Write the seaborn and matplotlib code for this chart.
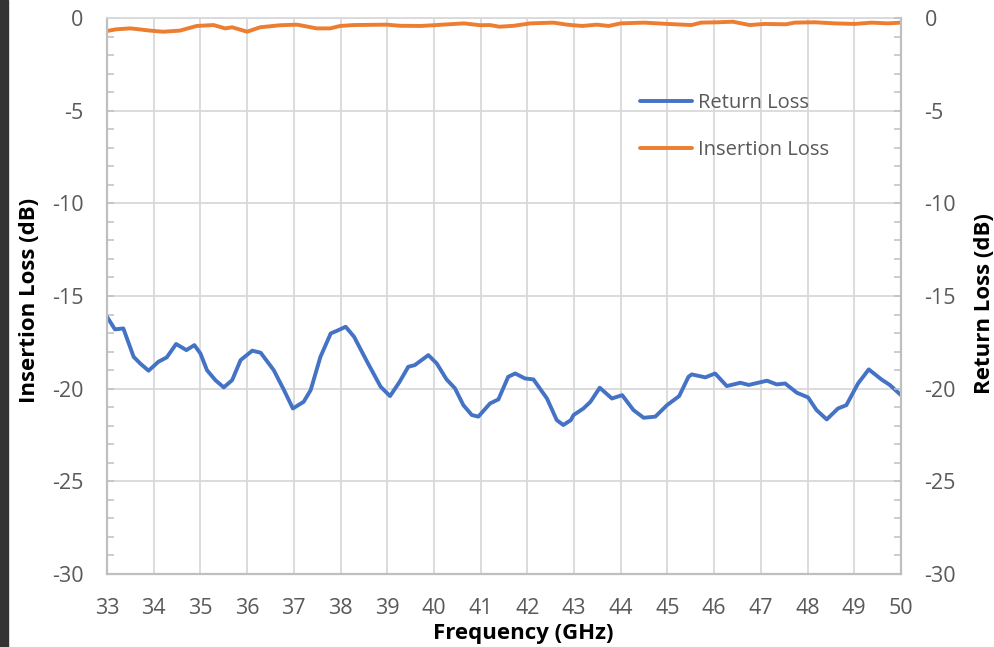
import matplotlib
matplotlib.use("Agg")
import matplotlib.pyplot as plt
import seaborn as sns
import pandas as pd
from matplotlib.ticker import MultipleLocator, FixedLocator
from matplotlib.patches import Rectangle

# ---------------- data ----------------
rl_freq = [33.00, 33.17, 33.35, 33.57, 33.71, 33.89, 34.10, 34.28, 34.48, 34.70,
           34.87, 35.00, 35.14, 35.32, 35.50, 35.68, 35.86, 36.11, 36.29, 36.57,
           36.79, 36.98, 37.21, 37.36, 37.57, 37.79, 37.93, 38.11, 38.29, 38.57,
           38.86, 39.06, 39.26, 39.45, 39.59, 39.88, 40.06, 40.27, 40.45, 40.63,
           40.81, 40.95, 41.20, 41.38, 41.59, 41.74, 41.95, 42.13, 42.42, 42.63,
           42.77, 42.93, 42.99, 43.20, 43.35, 43.55, 43.81, 44.03, 44.27, 44.49,
           44.74, 44.99, 45.25, 45.45, 45.52, 45.81, 46.02, 46.27, 46.56, 46.74,
           47.13, 47.34, 47.52, 47.77, 48.01, 48.19, 48.41, 48.65, 48.83, 49.08,
           49.31, 49.58, 49.76, 50.00]
rl_db = [-16.12, -16.80, -16.75, -18.28, -18.64, -19.03, -18.55, -18.31, -17.59, -17.92,
         -17.65, -18.10, -19.00, -19.54, -19.93, -19.54, -18.46, -17.95, -18.06, -19.00,
         -20.08, -21.07, -20.71, -20.08, -18.28, -17.02, -16.87, -16.66, -17.20, -18.55,
         -19.90, -20.40, -19.65, -18.82, -18.73, -18.19, -18.64, -19.50, -19.98, -20.89,
         -21.42, -21.51, -20.80, -20.58, -19.36, -19.18, -19.45, -19.50, -20.53, -21.70,
         -21.96, -21.70, -21.42, -21.07, -20.71, -19.95, -20.53, -20.35, -21.15, -21.57,
         -21.51, -20.89, -20.40, -19.36, -19.23, -19.39, -19.18, -19.86, -19.68, -19.80,
         -19.57, -19.77, -19.72, -20.22, -20.47, -21.15, -21.66, -21.07, -20.89, -19.72,
         -18.96, -19.50, -19.80, -20.35]

il_freq = [33.00, 33.20, 33.50, 33.65, 33.92, 34.20, 34.56, 34.92, 35.28, 35.53,
           35.68, 36.00, 36.28, 36.71, 37.07, 37.49, 37.78, 37.99, 38.28, 38.99,
           39.28, 39.71, 39.99, 40.64, 40.99, 41.20, 41.40, 41.71, 42.06, 42.56,
           42.85, 43.17, 43.49, 43.74, 44.00, 44.50, 45.00, 45.51, 45.72, 46.08,
           46.40, 46.76, 47.08, 47.54, 47.72, 48.15, 48.58, 49.01, 49.37, 49.72,
           50.00]
il_db = [-0.70, -0.61, -0.56, -0.60, -0.68, -0.74, -0.68, -0.43, -0.38, -0.56,
         -0.50, -0.74, -0.50, -0.39, -0.36, -0.56, -0.56, -0.43, -0.38, -0.36,
         -0.42, -0.43, -0.39, -0.29, -0.39, -0.38, -0.47, -0.42, -0.29, -0.25,
         -0.36, -0.43, -0.36, -0.43, -0.29, -0.25, -0.32, -0.38, -0.25, -0.23,
         -0.20, -0.38, -0.32, -0.34, -0.25, -0.23, -0.29, -0.32, -0.25, -0.29,
         -0.25]

x_ticks = list(range(33, 51))
y_ticks = [0, -5, -10, -15, -20, -25, -30]
series_names = ["Return Loss", "Insertion Loss"]
series_colors = ["#4472C4", "#ED7D31"]

# ---------------- style ----------------
sns.set_theme(style="white")
plt.rcParams['font.family'] = ['Open Sans', 'DejaVu Sans']

TICK_COL = "#595959"
GRID_COL = "#D9D9D9"
SPINE_COL = "#BFBFBF"

fig = plt.figure(figsize=(9.94, 6.47), dpi=100)
ax = fig.add_axes([107/994, 1-574/647, 794/994, 556/647])

rl_df = pd.DataFrame({"freq": rl_freq, "val": rl_db})
il_df = pd.DataFrame({"freq": il_freq, "val": il_db})

sns.lineplot(data=rl_df, x="freq", y="val", ax=ax, color=series_colors[0],
             linewidth=2.8, label=series_names[0], estimator=None,
             solid_joinstyle="round", solid_capstyle="round")
sns.lineplot(data=il_df, x="freq", y="val", ax=ax, color=series_colors[1],
             linewidth=2.8, label=series_names[1], estimator=None,
             solid_joinstyle="round", solid_capstyle="round")

ax.set_xlim(33, 50)
ax.set_ylim(-30, 0)
ax.xaxis.set_major_locator(FixedLocator(x_ticks))
ax.xaxis.set_minor_locator(MultipleLocator(0.2))
ax.yaxis.set_major_locator(FixedLocator(y_ticks))
ax.yaxis.set_minor_locator(MultipleLocator(1))
ax.set_xticklabels([str(t) for t in x_ticks])
ax.set_yticklabels([str(t) for t in y_ticks])

ax.grid(True, which="major", color=GRID_COL, linewidth=1.3)
ax.set_axisbelow(True)

ax.tick_params(axis="both", which="both", direction="in", color=SPINE_COL,
               width=1.1, labelcolor=TICK_COL, labelsize=15.5)
ax.tick_params(axis="both", which="major", length=5)
ax.tick_params(axis="both", which="minor", length=5)
ax.tick_params(axis="x", which="major", pad=17)
ax.tick_params(axis="y", which="major", pad=17)

for side in ["left", "bottom"]:
    ax.spines[side].set_color(SPINE_COL)
    ax.spines[side].set_linewidth(1.6)
ax.spines["top"].set_color(GRID_COL)
ax.spines["top"].set_linewidth(1.3)
ax.spines["right"].set_visible(False)

ax.set_xlabel("Frequency (GHz)", fontsize=16, fontweight="bold", color="#000000", va="center")
ax.xaxis.set_label_coords((523-107)/794, (574-633)/556)
ax.set_ylabel("Insertion Loss (dB)", fontsize=16, fontweight="bold", color="#000000", va="center")
ax.yaxis.set_label_coords((30-107)/794, (574-300)/556)

# right axis
ax2 = ax.twinx()
ax2.set_ylim(-30, 0)
ax2.yaxis.set_major_locator(FixedLocator(y_ticks))
ax2.yaxis.set_minor_locator(MultipleLocator(1))
ax2.set_yticklabels([str(t) for t in y_ticks])
ax2.tick_params(axis="y", which="both", direction="in", color=SPINE_COL,
                width=1.1, labelcolor=TICK_COL, labelsize=15.5, length=5, pad=17)
for side in ["left", "top", "bottom"]:
    ax2.spines[side].set_visible(False)
ax2.spines["right"].set_color(SPINE_COL)
ax2.spines["right"].set_linewidth(1.6)
ax2.set_ylabel("Return Loss (dB)", fontsize=16, fontweight="bold", color="#000000",
               va="center", rotation=90)
ax2.yaxis.set_label_coords((984-107)/794, (574-304)/556)
ax2.grid(False)

leg = ax.legend(loc="upper left", bbox_to_anchor=((640-107)/794, (574-93)/556),
                frameon=False, handlelength=2.6, handletextpad=0.3,
                labelspacing=1.35, fontsize=14.5, borderpad=0, borderaxespad=0)
for t in leg.get_texts():
    t.set_color(TICK_COL)
for h in leg.get_lines():
    h.set_linewidth(2.8)

fig.add_artist(Rectangle((0, 0), 8/994, 1, transform=fig.transFigure,
                         color="#333333", zorder=10))

fig.savefig("out.png", dpi=100)
